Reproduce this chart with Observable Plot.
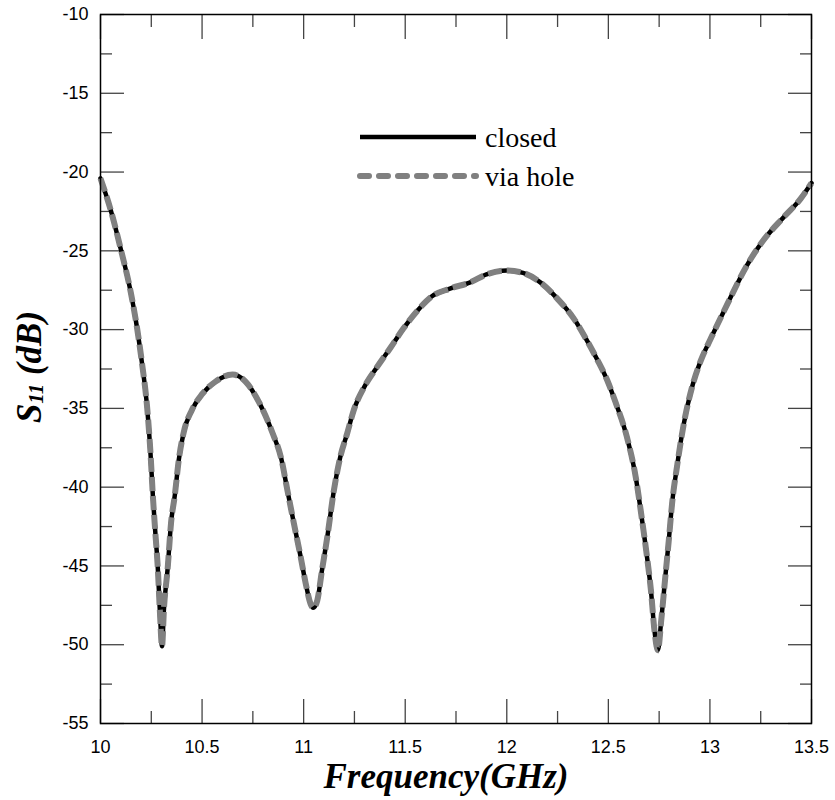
<!DOCTYPE html>
<html><head><meta charset="utf-8">
<script src="https://cdn.jsdelivr.net/npm/d3@7"></script>
<script src="https://cdn.jsdelivr.net/npm/@observablehq/plot@0.6"></script>
<style>body{margin:0;background:#fff} svg{display:block}</style>
</head><body><div id="chart"></div>
<script>
const freq = [10.000,10.050,10.100,10.150,10.180,10.205,10.230,10.245,10.258,10.270,10.282,10.292,10.303,10.312,10.331,10.347,10.366,10.385,10.410,10.450,10.500,10.566,10.650,10.714,10.780,10.845,10.890,10.920,10.952,10.985,11.010,11.034,11.047,11.067,11.090,11.116,11.149,11.180,11.214,11.247,11.300,11.360,11.430,11.490,11.560,11.630,11.720,11.820,11.900,12.000,12.080,12.170,12.250,12.330,12.395,12.445,12.494,12.535,12.593,12.634,12.666,12.690,12.710,12.727,12.744,12.760,12.781,12.798,12.814,12.839,12.871,12.912,12.954,13.003,13.085,13.183,13.265,13.364,13.446,13.500];
const closed = [-20.4,-22.4,-24.9,-27.7,-29.9,-32.2,-35.0,-37.6,-40.6,-42.9,-45.1,-47.8,-50.1,-47.8,-45.1,-42.3,-40.5,-38.3,-36.5,-35.1,-34.1,-33.3,-32.85,-33.3,-34.6,-36.5,-38.2,-40.2,-42.3,-44.4,-46.1,-47.4,-47.66,-47.2,-45.3,-43.2,-40.2,-38.1,-36.6,-35.1,-33.6,-32.4,-31.1,-29.95,-28.8,-27.9,-27.4,-27.0,-26.5,-26.25,-26.4,-27.05,-28.05,-29.3,-30.7,-31.9,-33.2,-34.6,-36.9,-39.3,-42.1,-44.4,-46.6,-49.1,-50.35,-48.5,-45.6,-43.3,-41.0,-38.6,-36.0,-33.65,-32.0,-30.6,-28.4,-25.9,-24.3,-22.85,-21.7,-20.7];
const viaHole = [-20.4,-22.4,-24.9,-27.7,-29.9,-32.2,-35.0,-37.6,-40.6,-42.9,-45.1,-47.8,-50.1,-47.8,-45.1,-42.3,-40.5,-38.3,-36.5,-35.1,-34.1,-33.3,-32.85,-33.3,-34.6,-36.5,-38.2,-40.2,-42.3,-44.4,-46.1,-47.4,-47.66,-47.2,-45.3,-43.2,-40.2,-38.1,-36.6,-35.1,-33.6,-32.4,-31.1,-29.95,-28.8,-27.9,-27.4,-27.0,-26.5,-26.25,-26.4,-27.05,-28.05,-29.3,-30.7,-31.9,-33.2,-34.6,-36.9,-39.3,-42.1,-44.4,-46.6,-49.1,-50.35,-48.5,-45.6,-43.3,-41.0,-38.6,-36.0,-33.65,-32.0,-30.6,-28.4,-25.9,-24.3,-22.85,-21.7,-20.7];
const seriesNames = ["closed", "via hole"];
const xMajor = [10, 10.5, 11, 11.5, 12, 12.5, 13, 13.5];
const xMinor = [10.25, 10.75, 11.25, 11.75, 12.25, 12.75, 13.25];
const yMajor = [-55, -50, -45, -40, -35, -30, -25, -20, -15, -10];
const yMinor = [-52.5, -47.5, -42.5, -37.5, -32.5, -27.5, -22.5, -17.5, -12.5];
const xTitle = "Frequency(GHz)";

const data = freq.map((f, i) => ({f, closed: closed[i], via: viaHole[i]}));

const tickStyle = {stroke: "#444", strokeWidth: 1.3, fill: "none", label: null};
const fmt = d => String(d);

const plot = Plot.plot({
  width: 835, height: 800,
  marginLeft: 100, marginRight: 24, marginTop: 14, marginBottom: 77,
  x: {domain: [10, 13.5]},
  y: {domain: [-55, -10]},
  style: {fontFamily: "'Liberation Sans', Arial, sans-serif", background: "white", color: "black"},
  marks: [
    Plot.axisX({...tickStyle, anchor: "bottom", ticks: xMajor, tickSize: -24}),
    Plot.axisX({...tickStyle, anchor: "bottom", ticks: xMinor, tickSize: -12}),
    Plot.axisX({...tickStyle, anchor: "top", ticks: xMajor, tickSize: -24}),
    Plot.axisX({...tickStyle, anchor: "top", ticks: xMinor, tickSize: -12}),
    Plot.axisY({...tickStyle, anchor: "left", ticks: yMajor, tickSize: -24}),
    Plot.axisY({...tickStyle, anchor: "left", ticks: yMinor, tickSize: -12}),
    Plot.axisY({...tickStyle, anchor: "right", ticks: yMajor, tickSize: -24}),
    Plot.axisY({...tickStyle, anchor: "right", ticks: yMinor, tickSize: -12}),
    Plot.axisX({anchor: "bottom", ticks: xMajor, tickSize: 0, tickPadding: 17, fontSize: 18, tickFormat: fmt, label: null, fill: "black"}),
    Plot.axisY({anchor: "left", ticks: yMajor, tickSize: 0, tickPadding: 12, fontSize: 18, tickFormat: fmt, label: null, fill: "black"}),
    Plot.line(data, {x: "f", y: "closed", stroke: "black", strokeWidth: 4.5, curve: "monotone-x"}),
    Plot.line(data, {x: "f", y: "via", stroke: "#808080", strokeWidth: 6, strokeDasharray: "14,5", strokeLinecap: "butt", curve: "monotone-x"}),
    Plot.frame({stroke: "black", strokeWidth: 1.5})
  ]
});

const svg = d3.select(plot);
const serif = "'Liberation Serif', 'Times New Roman', serif";

// x-axis title
svg.append("text")
  .attr("x", 446).attr("y", 788)
  .attr("text-anchor", "middle")
  .attr("font-family", serif).attr("font-weight", "bold").attr("font-style", "italic")
  .attr("font-size", 35).attr("fill", "black")
  .text(xTitle);

// y-axis title with subscript
const yt = svg.append("text")
  .attr("transform", "translate(41,367) rotate(-90)")
  .attr("text-anchor", "middle")
  .attr("font-family", serif).attr("font-weight", "bold").attr("font-style", "italic")
  .attr("font-size", 35).attr("fill", "black");
yt.append("tspan").text("S");
yt.append("tspan").attr("font-size", 21).attr("dy", 2).text("11");
yt.append("tspan").attr("dy", -2).text(" (dB)");

// legend
const legend = svg.append("g");
const legendStyles = [
  {stroke: "black", width: 4.5, dash: null, cap: "butt"},
  {stroke: "#808080", width: 6, dash: "9,10", cap: "round"}
];
seriesNames.forEach((name, i) => {
  const y = 137 + i * 39;
  const s = legendStyles[i];
  legend.append("line")
    .attr("x1", 360).attr("x2", 476).attr("y1", y).attr("y2", y)
    .attr("stroke", s.stroke).attr("stroke-width", s.width)
    .attr("stroke-dasharray", s.dash).attr("stroke-linecap", s.cap);
  legend.append("text")
    .attr("x", 485).attr("y", y + 10)
    .attr("text-anchor", "start")
    .attr("font-family", serif).attr("font-size", 28).attr("fill", "black")
    .text(name);
});

document.getElementById("chart").appendChild(plot);
</script>
</body></html>
